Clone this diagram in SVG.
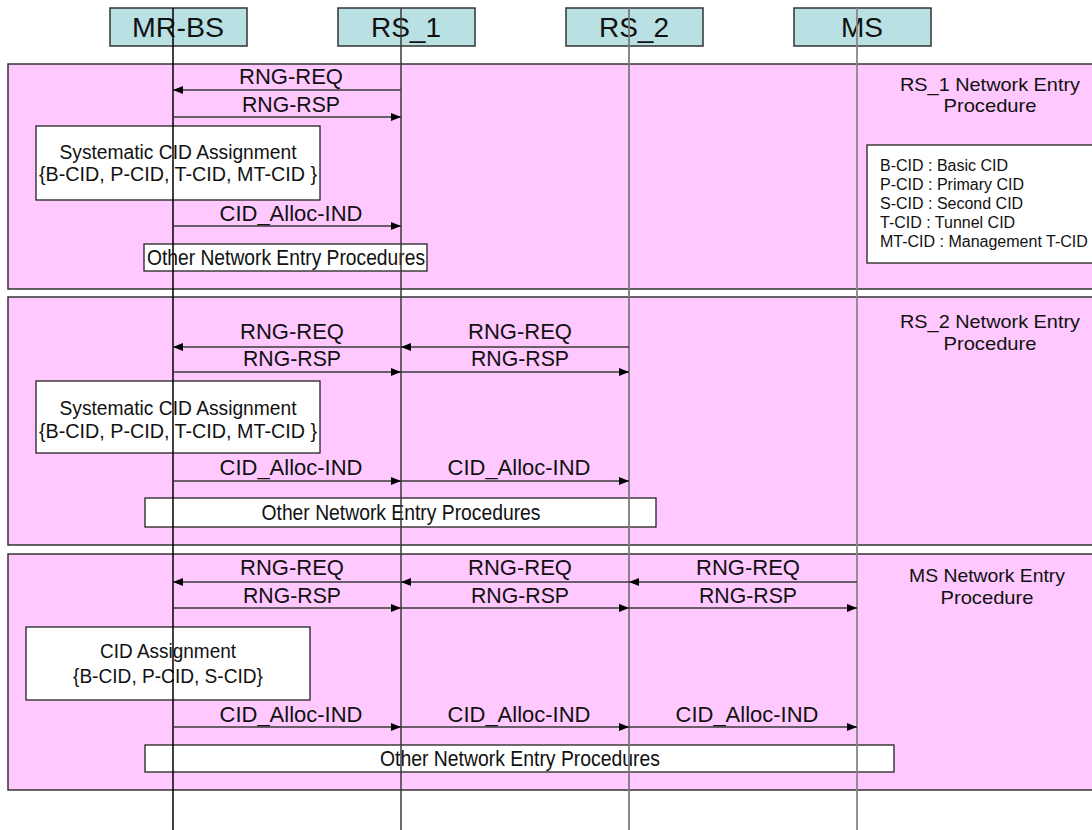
<svg xmlns="http://www.w3.org/2000/svg" width="1092" height="830" viewBox="0 0 1092 830">
<defs>
<style>
text{font-family:"Liberation Sans",Arial,sans-serif;fill:#111;}
.panel{fill:#ffc9ff;stroke:#333;stroke-width:1.5;}
.box{fill:#fff;stroke:#222;stroke-width:1.3;}
.hdr{fill:#b9e1e4;stroke:#333;stroke-width:1.5;}
.ht{font-size:28px;text-anchor:middle;}
.msg{font-size:22.5px;text-anchor:middle;}
.bt{font-size:20px;text-anchor:middle;}
.pl{font-size:18.5px;text-anchor:middle;}
.ot{font-size:21.5px;text-anchor:middle;}
.lg{font-size:16px;}
.arr{stroke:#3a3a3a;stroke-width:1.4;fill:none;marker-end:url(#ah);}
</style>
<marker id="ah" markerUnits="userSpaceOnUse" markerWidth="11" markerHeight="8" refX="10" refY="4" orient="auto">
<path d="M0,0 L10,4 L0,8 z" fill="#000"/>
</marker>
</defs>
<rect width="1092" height="830" fill="#fff"/>

<g id="panel-rs1">
<rect class="panel" x="8" y="64" width="1100" height="225"/>
<text class="pl" x="990" y="91" textLength="180" lengthAdjust="spacingAndGlyphs">RS_1 Network Entry</text>
<text class="pl" x="990" y="112" textLength="93" lengthAdjust="spacingAndGlyphs">Procedure</text>
<rect class="box" x="36" y="126" width="284" height="74"/>
<text class="bt" x="178" y="159" textLength="237" lengthAdjust="spacingAndGlyphs">Systematic CID Assignment</text>
<text class="bt" x="178" y="181" textLength="278" lengthAdjust="spacingAndGlyphs">{B-CID, P-CID, T-CID, MT-CID }</text>
<rect class="box" x="144" y="244" width="283" height="27"/>
<text class="ot" x="286" y="265" textLength="278" lengthAdjust="spacingAndGlyphs">Other Network Entry Procedures</text>
</g>

<g id="legend">
<rect class="box" x="867" y="145" width="240" height="118"/>
<text class="lg" x="880" y="171">B-CID : Basic CID</text>
<text class="lg" x="880" y="190">P-CID : Primary CID</text>
<text class="lg" x="880" y="209">S-CID : Second CID</text>
<text class="lg" x="880" y="228">T-CID : Tunnel CID</text>
<text class="lg" x="880" y="247">MT-CID : Management T-CID</text>
</g>

<g id="panel-rs2">
<rect class="panel" x="8" y="297" width="1100" height="248"/>
<text class="pl" x="990" y="328" textLength="180" lengthAdjust="spacingAndGlyphs">RS_2 Network Entry</text>
<text class="pl" x="990" y="350" textLength="93" lengthAdjust="spacingAndGlyphs">Procedure</text>
<rect class="box" x="36" y="381" width="284" height="72"/>
<text class="bt" x="178" y="415" textLength="237" lengthAdjust="spacingAndGlyphs">Systematic CID Assignment</text>
<text class="bt" x="178" y="438" textLength="278" lengthAdjust="spacingAndGlyphs">{B-CID, P-CID, T-CID, MT-CID }</text>
<rect class="box" x="145" y="498" width="511" height="29"/>
<text class="ot" x="401" y="520" textLength="279" lengthAdjust="spacingAndGlyphs">Other Network Entry Procedures</text>
</g>

<g id="panel-ms">
<rect class="panel" x="8" y="554" width="1100" height="236"/>
<text class="pl" x="987" y="582" textLength="156" lengthAdjust="spacingAndGlyphs">MS Network Entry</text>
<text class="pl" x="987" y="604" textLength="93" lengthAdjust="spacingAndGlyphs">Procedure</text>
<rect class="box" x="26" y="627" width="284" height="73"/>
<text class="bt" x="168" y="658" textLength="136" lengthAdjust="spacingAndGlyphs">CID Assignment</text>
<text class="bt" x="168" y="683" textLength="190" lengthAdjust="spacingAndGlyphs">{B-CID, P-CID, S-CID}</text>
<rect class="box" x="145" y="745" width="749" height="27"/>
<text class="ot" x="520" y="766" textLength="280" lengthAdjust="spacingAndGlyphs">Other Network Entry Procedures</text>
</g>

<g id="node-mrbs">
<rect class="hdr" x="110" y="8" width="137" height="38"/>
<text class="ht" x="178" y="37" textLength="92" lengthAdjust="spacingAndGlyphs">MR-BS</text>
<line x1="173" y1="8" x2="173" y2="830" stroke="#000" stroke-width="1.5"/>
</g>
<g id="node-rs1">
<rect class="hdr" x="338" y="8" width="137" height="38"/>
<text class="ht" x="406" y="37">RS_1</text>
<line x1="401" y1="8" x2="401" y2="830" stroke="#3a3a3a" stroke-width="1.5"/>
</g>
<g id="node-rs2">
<rect class="hdr" x="566" y="8" width="137" height="38"/>
<text class="ht" x="634" y="37">RS_2</text>
<line x1="629" y1="8" x2="629" y2="830" stroke="#7a7a7a" stroke-width="1.8"/>
</g>
<g id="node-ms">
<rect class="hdr" x="794" y="8" width="137" height="38"/>
<text class="ht" x="862" y="37">MS</text>
<line x1="857" y1="8" x2="857" y2="830" stroke="#888" stroke-width="1.8"/>
</g>

<g id="connectors">
<line class="arr" x1="401" y1="90" x2="173" y2="90"/>
<line class="arr" x1="173" y1="117" x2="401" y2="117"/>
<line class="arr" x1="173" y1="226" x2="401" y2="226"/>

<line class="arr" x1="401" y1="347" x2="173" y2="347"/>
<line class="arr" x1="629" y1="347" x2="401" y2="347"/>
<line class="arr" x1="173" y1="372" x2="401" y2="372"/>
<line class="arr" x1="401" y1="372" x2="629" y2="372"/>
<line class="arr" x1="173" y1="481" x2="401" y2="481"/>
<line class="arr" x1="401" y1="481" x2="629" y2="481"/>

<line class="arr" x1="401" y1="582" x2="173" y2="582"/>
<line class="arr" x1="629" y1="582" x2="401" y2="582"/>
<line class="arr" x1="857" y1="582" x2="629" y2="582"/>
<line class="arr" x1="173" y1="608" x2="401" y2="608"/>
<line class="arr" x1="401" y1="608" x2="629" y2="608"/>
<line class="arr" x1="629" y1="608" x2="857" y2="608"/>
<line class="arr" x1="173" y1="727" x2="401" y2="727"/>
<line class="arr" x1="401" y1="727" x2="629" y2="727"/>
<line class="arr" x1="629" y1="727" x2="857" y2="727"/>
</g>

<g id="labels">
<text class="msg" x="291" y="84" textLength="104" lengthAdjust="spacingAndGlyphs">RNG-REQ</text>
<text class="msg" x="291" y="112" textLength="98" lengthAdjust="spacingAndGlyphs">RNG-RSP</text>
<text class="msg" x="291" y="221" textLength="143" lengthAdjust="spacingAndGlyphs">CID_Alloc-IND</text>

<text class="msg" x="292" y="339" textLength="104" lengthAdjust="spacingAndGlyphs">RNG-REQ</text>
<text class="msg" x="520" y="339" textLength="104" lengthAdjust="spacingAndGlyphs">RNG-REQ</text>
<text class="msg" x="292" y="366" textLength="98" lengthAdjust="spacingAndGlyphs">RNG-RSP</text>
<text class="msg" x="520" y="366" textLength="98" lengthAdjust="spacingAndGlyphs">RNG-RSP</text>
<text class="msg" x="291" y="475" textLength="143" lengthAdjust="spacingAndGlyphs">CID_Alloc-IND</text>
<text class="msg" x="519" y="475" textLength="143" lengthAdjust="spacingAndGlyphs">CID_Alloc-IND</text>

<text class="msg" x="292" y="575" textLength="104" lengthAdjust="spacingAndGlyphs">RNG-REQ</text>
<text class="msg" x="520" y="575" textLength="104" lengthAdjust="spacingAndGlyphs">RNG-REQ</text>
<text class="msg" x="748" y="575" textLength="104" lengthAdjust="spacingAndGlyphs">RNG-REQ</text>
<text class="msg" x="292" y="603" textLength="98" lengthAdjust="spacingAndGlyphs">RNG-RSP</text>
<text class="msg" x="520" y="603" textLength="98" lengthAdjust="spacingAndGlyphs">RNG-RSP</text>
<text class="msg" x="748" y="603" textLength="98" lengthAdjust="spacingAndGlyphs">RNG-RSP</text>
<text class="msg" x="291" y="722" textLength="143" lengthAdjust="spacingAndGlyphs">CID_Alloc-IND</text>
<text class="msg" x="519" y="722" textLength="143" lengthAdjust="spacingAndGlyphs">CID_Alloc-IND</text>
<text class="msg" x="747" y="722" textLength="143" lengthAdjust="spacingAndGlyphs">CID_Alloc-IND</text>
</g>
</svg>
